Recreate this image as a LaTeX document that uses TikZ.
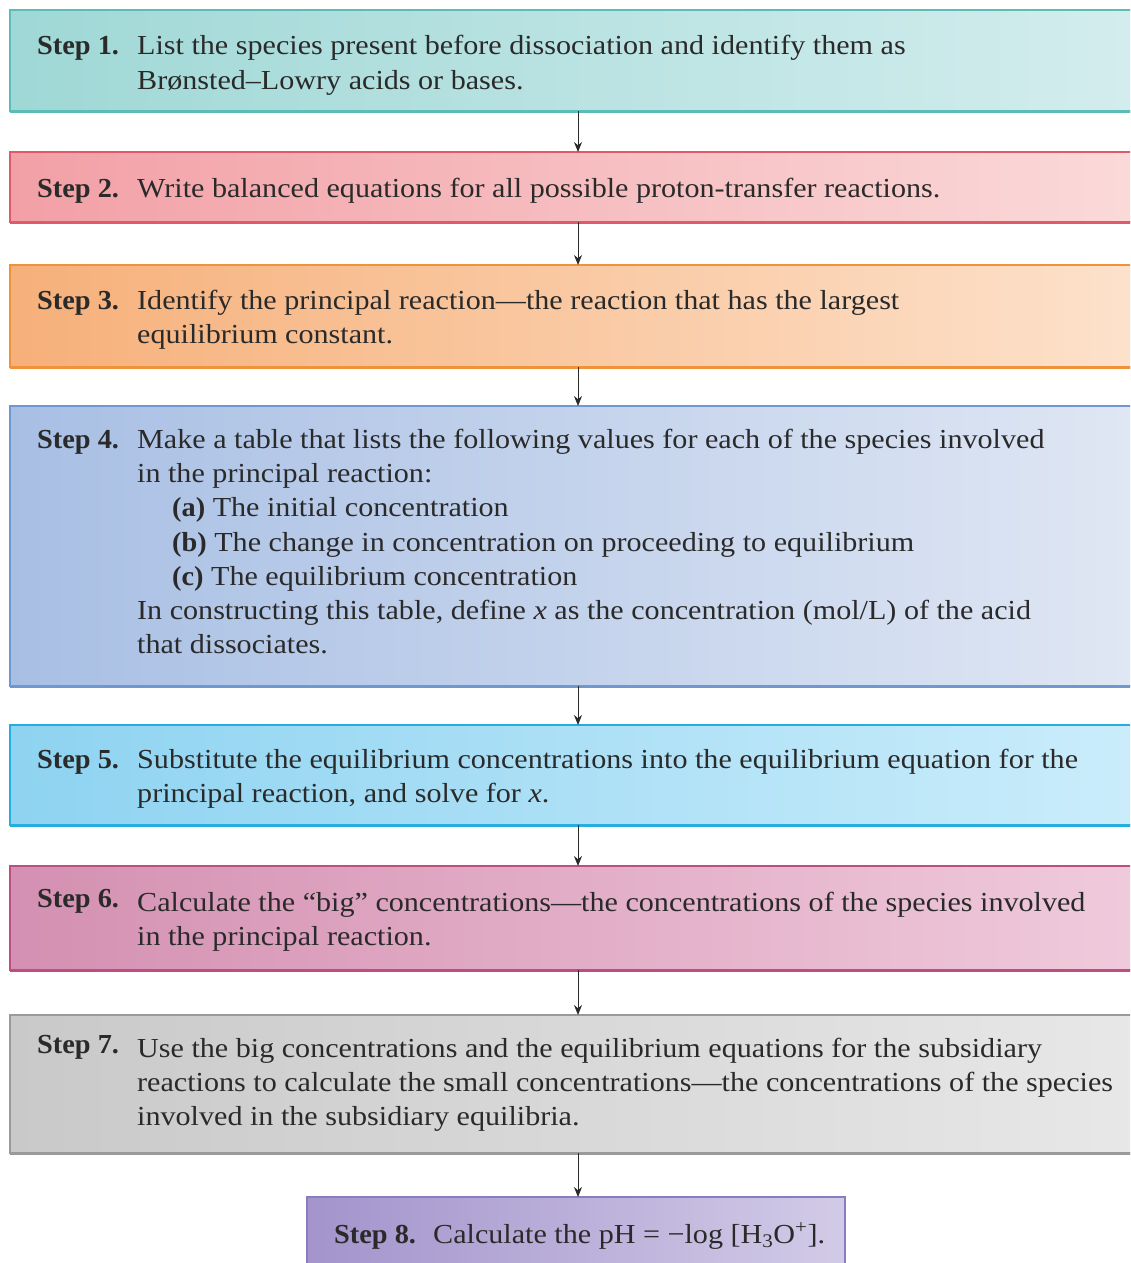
\documentclass[tikz,border=0pt]{standalone}
\usepackage{fontspec}
\setmainfont{Liberation Serif}[FakeStretch=1.095, BoldFeatures={FakeStretch=1.03}]
\usetikzlibrary{arrows.meta}
\definecolor{txt}{HTML}{2A2A2A}
\definecolor{tealL}{HTML}{9FD8D6}\definecolor{tealR}{HTML}{D4EDEE}\definecolor{tealB}{HTML}{5BBCB8}
\definecolor{redL}{HTML}{F2A0A6}\definecolor{redR}{HTML}{FBDADA}\definecolor{redB}{HTML}{E05A6A}
\definecolor{orL}{HTML}{F6B07A}\definecolor{orR}{HTML}{FDE2CC}\definecolor{orB}{HTML}{F0923A}
\definecolor{blL}{HTML}{A8BFE4}\definecolor{blR}{HTML}{E0E7F4}\definecolor{blB}{HTML}{6F97D0}
\definecolor{cyL}{HTML}{8ED3F1}\definecolor{cyR}{HTML}{CBEDFB}\definecolor{cyB}{HTML}{26ADE0}
\definecolor{mgL}{HTML}{D490B2}\definecolor{mgR}{HTML}{F0CBDC}\definecolor{mgB}{HTML}{BF4E80}
\definecolor{gyL}{HTML}{C9C9C9}\definecolor{gyR}{HTML}{E8E8E8}\definecolor{gyB}{HTML}{9A9A9A}
\definecolor{puL}{HTML}{A394CC}\definecolor{puR}{HTML}{D2CBE7}\definecolor{puB}{HTML}{8A7CC0}
\tikzset{
  stepbox/.style n args={3}{draw=#3, line width=1.2pt, left color=#1, right color=#2, minimum width=1136pt, anchor=north west, inner sep=0pt, outer sep=0pt},
  lbl/.style={anchor=base west, inner sep=0pt, text=txt, font=\fontsize{27.5}{34}\selectfont},
  arr/.style={-{Stealth[length=10pt,width=8pt]}, line width=1pt, draw=txt},
}
\begin{document}
\begin{tikzpicture}[x=1pt,y=-1pt]
\clip (0,0) rectangle (1130,1263);
\fill[white] (0,0) rectangle (1130,1263);
% boxes
\node[stepbox={tealL}{tealR}{tealB}, minimum height=101pt] (s1) at (10,10) {};
\node[stepbox={redL}{redR}{redB}, minimum height=70pt] (s2) at (10,152) {};
\node[stepbox={orL}{orR}{orB}, minimum height=102pt] (s3) at (10,265) {};
\node[stepbox={blL}{blR}{blB}, minimum height=280pt] (s4) at (10,406) {};
\node[stepbox={cyL}{cyR}{cyB}, minimum height=100pt] (s5) at (10,725) {};
\node[stepbox={mgL}{mgR}{mgB}, minimum height=104pt] (s6) at (10,866) {};
\node[stepbox={gyL}{gyR}{gyB}, minimum height=138pt] (s7) at (10,1015) {};
\node[stepbox={puL}{puR}{puB}, minimum width=538pt, minimum height=90pt] (s8) at (307,1197) {};
% thick bottom borders
\draw[tealB, line width=3pt] (s1.south west) -- (s1.south east);
\draw[redB, line width=3pt] (s2.south west) -- (s2.south east);
\draw[orB, line width=3pt] (s3.south west) -- (s3.south east);
\draw[blB, line width=3pt] (s4.south west) -- (s4.south east);
\draw[cyB, line width=3pt] (s5.south west) -- (s5.south east);
\draw[mgB, line width=3pt] (s6.south west) -- (s6.south east);
\draw[gyB, line width=3pt] (s7.south west) -- (s7.south east);
% arrows
\draw[arr] (s1.south) -- (s2.north);
\draw[arr] (s2.south) -- (s3.north);
\draw[arr] (s3.south) -- (s4.north);
\draw[arr] (s4.south) -- (s5.north);
\draw[arr] (s5.south) -- (s6.north);
\draw[arr] (s6.south) -- (s7.north);
\draw[arr] (s7.south) -- (s7.south |- s8.north);
% step 1
\node[lbl] (h1) at (37,55) {\textbf{Step 1.}};
\node[lbl] (a1) at (137,55) {List the species present before dissociation and identify them as};
\node[lbl] (b1) at (137,89) {Brønsted–Lowry acids or bases.};
% step 2
\node[lbl] (h2) at (37,197) {\textbf{Step 2.}};
\node[lbl] (a2) at (137,197) {Write balanced equations for all possible proton-transfer reactions.};
% step 3
\node[lbl] (h3) at (37,309) {\textbf{Step 3.}};
\node[lbl] (a3) at (137,309) {Identify the principal reaction—the reaction that has the largest};
\node[lbl] (b3) at (137,343) {equilibrium constant.};
% step 4
\node[lbl] (h4) at (37,448) {\textbf{Step 4.}};
\node[lbl] (a4) at (137,448) {Make a table that lists the following values for each of the species involved};
\node[lbl] (b4) at (137,482) {in the principal reaction:};
\node[lbl] (c4) at (172,516) {\textbf{(a)} The initial concentration};
\node[lbl] (d4) at (172,551) {\textbf{(b)} The change in concentration on proceeding to equilibrium};
\node[lbl] (e4) at (172,585) {\textbf{(c)} The equilibrium concentration};
\node[lbl] (f4) at (137,619) {In constructing this table, define \textit{x} as the concentration (mol/L) of the acid};
\node[lbl] (g4) at (137,653) {that dissociates.};
% step 5
\node[lbl] (h5) at (37,768) {\textbf{Step 5.}};
\node[lbl] (a5) at (137,768) {Substitute the equilibrium concentrations into the equilibrium equation for the};
\node[lbl] (b5) at (137,802) {principal reaction, and solve for \textit{x}.};
% step 6
\node[lbl] (h6) at (37,907) {\textbf{Step 6.}};
\node[lbl] (a6) at (137,911) {Calculate the “big” concentrations—the concentrations of the species involved};
\node[lbl] (b6) at (137,945) {in the principal reaction.};
% step 7
\node[lbl] (h7) at (37,1053) {\textbf{Step 7.}};
\node[lbl] (a7) at (137,1057) {Use the big concentrations and the equilibrium equations for the subsidiary};
\node[lbl] (b7) at (137,1091) {reactions to calculate the small concentrations—the concentrations of the species};
\node[lbl] (c7) at (137,1125) {involved in the subsidiary equilibria.};
% step 8
\node[lbl] (h8) at (334,1243) {\textbf{Step 8.}};
\node[lbl] (a8) at (433,1243) {Calculate the pH = −log [H\textsubscript{3}O\textsuperscript{+}].};
\end{tikzpicture}
\end{document}
